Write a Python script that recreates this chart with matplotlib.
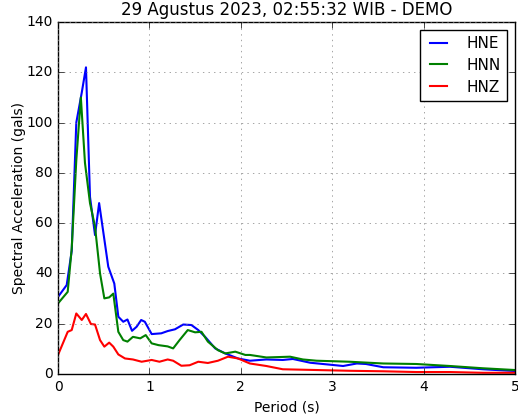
import numpy as np
import matplotlib
matplotlib.use("Agg")
from matplotlib import pyplot as plt

# HNE (blue)
t_hne = [0.0, 0.095, 0.15, 0.2, 0.26, 0.306, 0.35, 0.405, 0.45, 0.55, 0.616, 0.66, 0.714,
         0.76, 0.81, 0.86, 0.91, 0.95, 1.025, 1.13, 1.2, 1.28, 1.37, 1.46, 1.535, 1.61,
         1.72, 1.83, 1.97, 2.1, 2.28, 2.46, 2.57, 2.76, 3.01, 3.12, 3.27, 3.37, 3.56,
         3.92, 4.29, 4.65, 5.0]
hne = [30.7, 35.4, 49, 100, 112, 122, 70.5, 55.3, 68, 42.7, 36, 22.8, 20.8,
       21.7, 17.2, 18.8, 21.5, 20.8, 15.9, 16.2, 17.1, 17.8, 19.7, 19.5, 17.5, 14.8,
       10.2, 8.2, 6.2, 5.3, 5.8, 5.6, 6.0, 4.5, 3.6, 3.2, 4.2, 4.0, 2.7,
       2.5, 2.9, 1.9, 1.2]

# HNN (green)
t_hnn = [0.0, 0.106, 0.15, 0.2, 0.25, 0.295, 0.35, 0.405, 0.46, 0.507, 0.56, 0.605, 0.66,
         0.714, 0.76, 0.82, 0.9, 0.96, 1.025, 1.1, 1.2, 1.26, 1.33, 1.42, 1.5, 1.57,
         1.64, 1.75, 1.83, 1.94, 2.05, 2.1, 2.28, 2.54, 2.68, 2.83, 3.19, 3.56, 3.92,
         4.29, 4.65, 5.0]
hnn = [28.1, 32.7, 50, 85, 110, 84, 68, 58.6, 40, 30.1, 30.5, 32, 16.8,
       13.5, 12.9, 14.8, 14.2, 15.5, 12.2, 11.5, 11, 10.2, 13.5, 17.5, 16.6, 16.8,
       12.9, 9.5, 8.2, 8.9, 7.6, 7.6, 6.6, 6.9, 5.8, 5.3, 4.9, 4.2, 4.0,
       3.2, 2.3, 1.6]

# HNZ (red)
t_hnz = [0.0, 0.106, 0.15, 0.2, 0.26, 0.306, 0.36, 0.405, 0.46, 0.507, 0.56, 0.605, 0.66,
         0.733, 0.82, 0.915, 1.025, 1.11, 1.2, 1.26, 1.35, 1.44, 1.535, 1.64, 1.75,
         1.86, 1.97, 2.1, 2.28, 2.46, 2.83, 3.19, 3.56, 3.92, 4.29, 4.65, 5.0]
hnz = [7.6, 16.8, 17.5, 24.1, 21.5, 23.9, 19.9, 19.7, 13.5, 10.9, 12.5, 10.9, 7.8,
       6.2, 5.8, 4.9, 5.6, 4.9, 5.8, 5.3, 3.3, 3.5, 4.9, 4.4, 5.3,
       6.9, 6.2, 4.2, 3.2, 1.9, 1.6, 1.3, 1.1, 0.8, 0.8, 0.5, 0.5]

plt.style.use('classic')
fig = plt.figure(figsize=(5.18, 4.17), dpi=100)
ax = fig.add_axes([0.112, 0.103, 0.882, 0.844])
ax.plot(t_hne, hne, color='b', lw=1.5, label='HNE')
ax.plot(t_hnn, hnn, color='g', lw=1.5, label='HNN')
ax.plot(t_hnz, hnz, color='r', lw=1.5, label='HNZ')
ax.set_xlim(0, 5)
ax.set_ylim(0, 140)
ax.set_xticks(range(0, 6))
ax.set_yticks(range(0, 141, 20))
ax.tick_params(labelsize=10)
ax.grid(True, color='gray', linestyle=':')
ax.set_xlabel('Period (s)', fontsize=10)
ax.set_ylabel('Spectral Acceleration (gals)', fontsize=10, labelpad=0)
ax.set_title('29 Agustus 2023, 02:55:32 WIB - DEMO', fontsize=12)
ax.legend(loc='upper right', fontsize=11, handlelength=1.7, handletextpad=1.0,
          borderpad=0.4, labelspacing=0.45)

fig.savefig('out.png', dpi=100)
